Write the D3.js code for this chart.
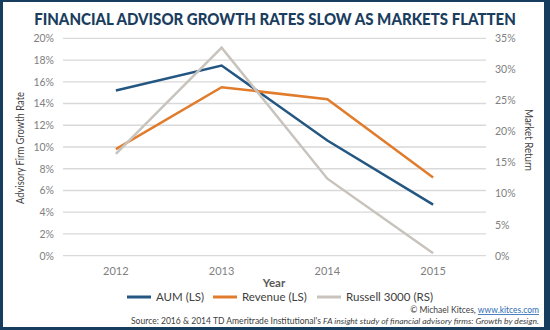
<!DOCTYPE html>
<html><head><meta charset="utf-8">
<script src="https://cdn.jsdelivr.net/npm/d3@7"></script>
<style>body{margin:0;background:#fff}svg{display:block}</style>
</head><body>
<svg id="c" width="550" height="330"></svg>
<script>
const years = ["2012","2013","2014","2015"];
const aum = [15.2, 17.5, 10.6, 4.7];
const revenue = [9.8, 15.5, 14.4, 7.2];
const russell = [16.4, 33.5, 12.4, 0.4];
const leftTicks = [0,2,4,6,8,10,12,14,16,18,20];
const rightTicks = [0,5,10,15,20,25,30,35];
const seriesNames = ["AUM (LS)","Revenue (LS)","Russell 3000 (RS)"];
const colors = ["#245682","#e07c2c","#c9c3bd"];

const svg = d3.select("#c");
const font = "Lato, 'Open Sans', sans-serif";
// frame
svg.append("rect").attr("x",0).attr("y",0).attr("width",550).attr("height",330).attr("fill","#173d5e");
svg.append("rect").attr("x",3).attr("y",2).attr("width",541).attr("height",325).attr("fill","#fff");

const titleG = svg.append("g");
const title = titleG.append("text").attr("x",0).attr("y",0).attr("text-anchor","middle")
  .attr("font-family","Lato, sans-serif").attr("font-weight","900").attr("font-size",17)
  .attr("fill","#1b3d5e")
  .text("FINANCIAL ADVISOR GROWTH RATES SLOW AS MARKETS FLATTEN");
const tw = title.node().getComputedTextLength();
titleG.attr("transform",`translate(275,24.5) scale(${Math.min(1,482/tw)},1)`);

const x = d3.scaleBand().domain(years).range([63,486]);
const yL = d3.scaleLinear().domain([0,20]).range([255.7,38.3]);
const yR = d3.scaleLinear().domain([0,35]).range([255.7,38.3]);

const g = svg.append("g");
g.selectAll("line.grid").data(leftTicks).join("line")
  .attr("x1",63).attr("x2",486).attr("y1",d=>yL(d)).attr("y2",d=>yL(d))
  .attr("stroke","#d9d9d9").attr("stroke-width",1.3);

const axL = d3.axisLeft(yL).tickValues(leftTicks).tickFormat(d=>d+"%").tickSize(0).tickPadding(9);
const gl = svg.append("g").attr("transform","translate(63,0)").call(axL);
const axR = d3.axisRight(yR).tickValues(rightTicks).tickFormat(d=>d+"%").tickSize(0).tickPadding(9);
const gr = svg.append("g").attr("transform","translate(486,0)").call(axR);
const axB = d3.axisBottom(x).tickSize(0).tickPadding(9);
const gb = svg.append("g").attr("transform","translate(0,258)").call(axB);
[gl,gr,gb].forEach(a=>{
  a.select(".domain").remove();
  a.selectAll("text").attr("font-family",font).attr("font-size",10.5).attr("fill","#808080");
});
gb.selectAll("text").attr("font-size",11);

const cx = d=>x(d)+x.bandwidth()/2;
const line = (ys, scale) => d3.line().x((d,i)=>cx(years[i])).y(d=>scale(d))(ys);
[[aum,yL],[revenue,yL],[russell,yR]].forEach(([vals,sc],i)=>{
  svg.append("path").attr("d",line(vals,sc)).attr("fill","none")
    .attr("stroke",colors[i]).attr("stroke-width",2.5).attr("stroke-linejoin","miter");
});

svg.append("text").attr("transform","translate(24,148) rotate(-90)").attr("text-anchor","middle")
  .attr("font-family",font).attr("font-size",11.5).attr("fill","#404040")
  .attr("textLength",112).attr("lengthAdjust","spacingAndGlyphs").text("Advisory Firm Growth Rate");
svg.append("text").attr("transform","translate(525,140) rotate(90)").attr("text-anchor","middle")
  .attr("font-family",font).attr("font-size",11.5).attr("fill","#404040")
  .attr("textLength",62).attr("lengthAdjust","spacingAndGlyphs").text("Market Return");
svg.append("text").attr("x",274).attr("y",287).attr("text-anchor","middle")
  .attr("font-family",font).attr("font-size",11.5).attr("font-weight","bold").attr("fill","#595959").text("Year");

const legX = [127,213,317];
seriesNames.forEach((n,i)=>{
  svg.append("line").attr("x1",legX[i]).attr("x2",legX[i]+24).attr("y1",297).attr("y2",297)
    .attr("stroke",colors[i]).attr("stroke-width",3);
  svg.append("text").attr("x",legX[i]+29).attr("y",301).attr("font-family",font).attr("font-size",11.5)
    .attr("fill","#404040").text(n);
});

const c = svg.append("text").attr("x",539).attr("y",313).attr("text-anchor","end")
  .attr("font-family",font).attr("font-size",8.5).attr("fill","#404040");
c.append("tspan").text("© Michael Kitces, ");
c.append("tspan").attr("fill","#2e6db4").attr("text-decoration","underline").text("www.kitces.com");

const s = svg.append("text").attr("x",539).attr("y",324).attr("text-anchor","end")
  .attr("font-family",font).attr("font-size",8.5).attr("fill","#404040")
  .attr("textLength",408).attr("lengthAdjust","spacingAndGlyphs");
s.append("tspan").text("Source: 2016 & 2014 TD Ameritrade Institutional's ");
s.append("tspan").attr("font-style","italic").text("FA insight study of financial advisory firms: Growth by design.");
</script>
</body></html>
